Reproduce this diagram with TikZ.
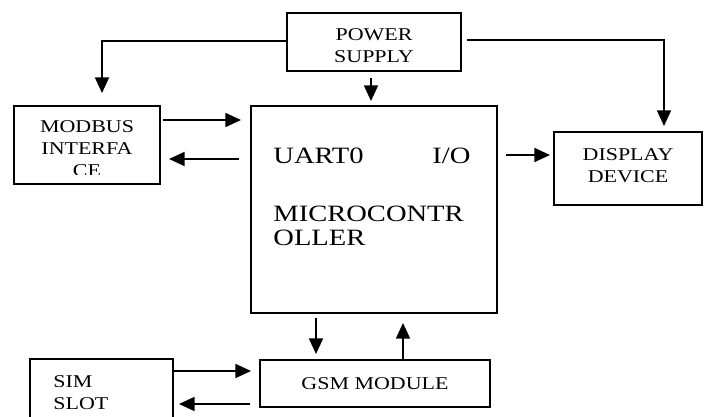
\documentclass[tikz,border=0pt]{standalone}
\usepackage{fontspec}
\setmainfont{Liberation Serif}[FakeStretch=1.22]
\usetikzlibrary{arrows.meta,calc}
\tikzset{
  >={Triangle[length=7.8pt,width=7pt]},
  every node/.style={font=\fontsize{9}{11}\selectfont,text=black},
  box/.style={draw,line width=1pt,align=center,inner sep=0pt},
  big/.style={font=\fontsize{11.7}{12}\selectfont,inner sep=0pt,anchor=base west},
  arrow/.style={->,line width=0.85pt},
}

\begin{document}
\begin{tikzpicture}[x=0.5pt,y=-0.5pt]
  \useasboundingbox (0,0) rectangle (707,417);
  \node[box,minimum width=87pt,minimum height=29pt] (power) at (374,42) {};
  \node[align=center] (powertext) at (374,46) {POWER\\SUPPLY};
  \node[box,minimum width=73pt,minimum height=39pt] (modbus) at (87,145) {};
  \begin{scope}
    \clip (modbus.north west) rectangle ($(modbus.south east)+(0,-10)$);
    \node[align=center] (modbustext) at (87,149) {MODBUS\\INTERFA\\CE};
  \end{scope}
  \node[box,minimum width=123pt,minimum height=103.5pt] (micro) at (374,209.5) {};
  \node[big] (uart) at (273,163) {UART0};
  \node[big] (io) at (432,163) {I/O};
  \node[big] (mcu1) at (273,221) {MICROCONTR};
  \node[big] (mcu2) at (273,245) {OLLER};
  \node[box,minimum width=74pt,minimum height=36.5pt] (display) at (628,168.5) {};
  \node[align=center] (displaytext) at (628,165.5) {DISPLAY\\DEVICE};
  \node[box,minimum width=115pt,minimum height=23.5pt] (gsm) at (375,383.5) {GSM MODULE};
  \node[box,minimum width=71.5pt,minimum height=40.5pt] (sim) at (101.5,399.5) {};
  \node[align=left,anchor=north west,inner sep=0pt] (simtext) at (53,375) {SIM\\SLOT};

  \draw[arrow] ($(power.west)+(0,-1)$) -| ($(modbus.north)+(15,-12)$);
  \draw[arrow] ($(power.east)+(5,-2)$) -| ($(display.north)+(36,-5)$);
  \draw[arrow] ($(power.south)+(-3,6)$) -- ($(micro.north)+(-3,-4)$);
  \draw[arrow] ($(modbus.east)+(2,-25)$) -- ($(micro.west)+(-9,-89.5)$);
  \draw[arrow] ($(micro.west)+(-11,-50.5)$) -- ($(modbus.east)+(8,14)$);
  \draw[arrow] ($(micro.east)+(8,-54.5)$) -- ($(display.west)+(-3,-13.5)$);
  \draw[arrow] ($(micro.south)+(-58,4)$) -- ($(gsm.north)+(-59,-5)$);
  \draw[arrow] ($(gsm.north)+(28,0)$) -- ($(micro.south)+(29,9)$);
  \draw[arrow] ($(sim.east)+(0,-28.5)$) -- ($(gsm.west)+(-8,-12.5)$);
  \draw[arrow] ($(gsm.west)+(-9,20.5)$) -- ($(sim.east)+(5,4.5)$);
\end{tikzpicture}
\end{document}
